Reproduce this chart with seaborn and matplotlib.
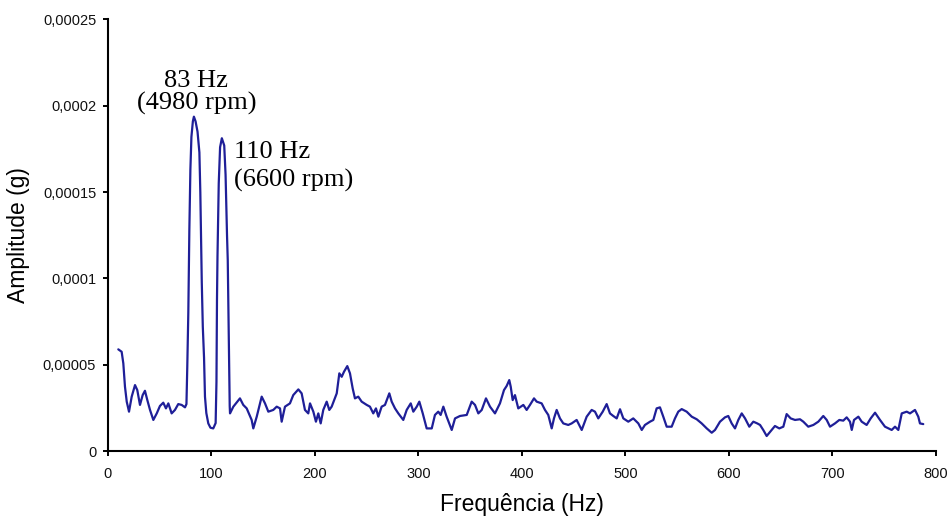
import matplotlib
matplotlib.use("Agg")
import matplotlib.pyplot as plt
import numpy as np
import pandas as pd
import seaborn as sns
from matplotlib.ticker import FixedLocator, FixedFormatter

# Vibration spectrum: frequency (Hz) and amplitude (in units of 1e-5 g)
freq_hz = [
    9.95, 13.2, 14.8, 16.4, 18.1, 20.3, 22.9, 26.1, 28.3, 30.9, 33.5, 35.7, 38.0,
    40.6, 43.8, 47.1, 50.2, 53.4, 56.0, 58.3, 61.5, 64.7, 67.9, 71.2, 74.4, 75.8,
    76.6, 77.6, 78.6, 79.6, 80.6, 82.0, 83.0, 84.6, 86.5, 88.3, 89.2, 89.9, 90.6,
    91.6, 92.8, 93.7, 95.0, 96.9, 99.0, 101.7, 104.0, 104.8, 105.3, 105.8, 107.0,
    108.3, 110.0, 112.3, 113.6, 115.0, 115.7, 116.6, 117.2, 117.6, 117.9,
    121.1, 127.5, 130.7, 134.0, 138.8, 140.4, 143.7, 148.5, 151.7, 154.9, 159.7,
    163.0, 166.2, 167.8, 171.0, 175.8, 179.0, 183.9, 187.1, 190.3, 193.5, 195.2,
    198.4, 200.9, 203.2, 205.5, 208.0, 211.3, 213.8, 216.1, 221.0, 223.5, 225.8,
    228.0, 231.2, 233.8, 236.4, 238.6, 241.8, 245.1, 250.0, 253.1, 256.3, 258.9,
    261.2, 264.4, 267.6, 271.8, 274.1, 277.3, 280.5, 285.3, 288.6, 292.5, 295.0,
    298.3, 300.8, 304.1, 307.9, 312.8, 315.9, 319.1, 321.4, 324.0, 327.2, 332.1,
    335.3, 340.1, 346.6, 351.4, 354.6, 357.8, 361.1, 365.2, 369.1, 373.9, 378.7,
    382.6, 385.2, 387.7, 389.1, 391.0, 393.2, 396.4, 401.3, 404.5, 407.7, 411.6,
    414.2, 419.0, 422.2, 425.4, 428.7, 430.9, 433.5, 436.7, 439.9, 444.7, 448.0,
    452.8, 457.7, 462.5, 467.3, 470.5, 473.7, 478.0, 481.8, 485.0, 488.2, 491.5,
    494.7, 497.9, 502.7, 507.5, 512.4, 515.7, 518.8, 523.7, 526.9, 530.1, 533.3,
    536.5, 539.8, 544.6, 547.8, 551.0, 554.3, 559.1, 564.0, 568.8, 573.6, 578.5,
    583.3, 586.5, 591.3, 596.1, 599.3, 602.6, 605.8, 609.0, 612.3, 615.5, 619.6,
    623.5, 627.3, 630.0, 633.1, 636.4, 641.3, 644.4, 648.6, 652.5, 655.7, 659.6,
    663.8, 668.6, 671.8, 676.6, 681.5, 686.3, 691.1, 694.4, 697.6, 702.4, 706.6,
    710.4, 713.7, 716.9, 718.6, 720.8, 725.0, 728.2, 733.0, 736.9, 741.1, 745.9,
    750.7, 757.2, 760.4, 763.6, 766.9, 771.7, 774.9, 779.7, 782.9, 784.5, 787.7,
]
amp_1e5_g = [
    5.89, 5.75, 5.08, 3.73, 2.86, 2.28, 3.15, 3.82, 3.53, 2.67, 3.24, 3.49, 2.95,
    2.38, 1.80, 2.18, 2.61, 2.80, 2.47, 2.76, 2.18, 2.38, 2.72, 2.67, 2.53, 2.72,
    4.88, 8.00, 12.8, 16.3, 18.2, 19.1, 19.37, 19.1, 18.5, 17.3, 15.0, 12.5, 9.8,
    7.2, 5.4, 3.15, 2.2, 1.6, 1.35, 1.31, 1.62, 4.0, 8.75, 11.3, 15.5,
    17.6, 18.12, 17.7, 16.0, 12.5, 11.07, 7.0, 4.1, 2.6, 2.18,
    2.57, 3.05, 2.67, 2.47, 1.80, 1.31, 1.99, 3.15, 2.76, 2.28, 2.38,
    2.57, 2.47, 1.70, 2.57, 2.76, 3.24, 3.57, 3.34, 2.38, 2.18, 2.76,
    2.28, 1.70, 2.18, 1.60, 2.38, 2.86, 2.38, 2.57, 3.34, 4.50, 4.30,
    4.59, 4.92, 4.50, 3.63, 3.05, 3.15, 2.86, 2.67, 2.57, 2.18, 2.47,
    1.99, 2.57, 2.67, 3.34, 2.86, 2.47, 2.18, 1.80, 2.38, 2.76, 2.28,
    2.57, 2.86, 2.18, 1.31, 1.31, 2.09, 2.28, 2.09, 2.57, 1.99, 1.22,
    1.89, 2.03, 2.09, 2.86, 2.67, 2.18, 2.38, 3.05, 2.57, 2.18, 2.76,
    3.53, 3.77, 4.11, 3.73, 2.95, 3.24, 2.47, 2.67, 2.38, 2.67, 3.05,
    2.86, 2.76, 2.38, 2.09, 1.31, 1.89, 2.38, 1.89, 1.60, 1.51, 1.60,
    1.80, 1.22, 1.99, 2.38, 2.28, 1.89, 2.28, 2.72, 2.18, 2.03, 1.89,
    2.42, 1.89, 1.70, 1.89, 1.60, 1.22, 1.51, 1.70, 1.80, 2.47, 2.53,
    1.99, 1.41, 1.41, 1.89, 2.28, 2.43, 2.28, 1.99, 1.84, 1.60, 1.31,
    1.06, 1.22, 1.70, 1.95, 2.03, 1.60, 1.31, 1.80, 2.18, 1.89, 1.41,
    1.70, 1.60, 1.51, 1.22, 0.87, 1.22, 1.45, 1.31, 1.41, 2.14, 1.89,
    1.80, 1.84, 1.70, 1.41, 1.51, 1.70, 2.03, 1.80, 1.41, 1.60, 1.80,
    1.76, 1.95, 1.70, 1.22, 1.80, 1.99, 1.70, 1.51, 1.89, 2.22, 1.80,
    1.41, 1.22, 1.41, 1.22, 2.18, 2.28, 2.18, 2.38, 1.99, 1.60, 1.56,
]

x_ticks = [0, 100, 200, 300, 400, 500, 600, 700, 800]
y_ticks = [0, 0.00005, 0.0001, 0.00015, 0.0002, 0.00025]
y_tick_labels = ["0", "0,00005", "0,0001", "0,00015", "0,0002", "0,00025"]

peak_labels = ["83 Hz\n(4980 rpm)", "110 Hz\n(6600 rpm)"]

x_label = "Frequência (Hz)"
y_label = "Amplitude (g)"

df = pd.DataFrame({"freq": freq_hz, "amp": np.array(amp_1e5_g) * 1e-5})

sns.set_theme(style="white")
plt.rcParams["font.family"] = ["Liberation Sans", "DejaVu Sans"]

fig = plt.figure(figsize=(9.49, 5.18), dpi=100)
ax = fig.add_axes([0.1138, 0.1293, 0.8725, 0.8331])

sns.lineplot(data=df, x="freq", y="amp", color="#1f1f98", linewidth=1.6, ax=ax)

ax.set_xlim(0, 800)
ax.set_ylim(0, 0.00025)
ax.xaxis.set_major_locator(FixedLocator(x_ticks))
ax.set_xticklabels([str(t) for t in x_ticks])
ax.yaxis.set_major_locator(FixedLocator(y_ticks))
ax.yaxis.set_major_formatter(FixedFormatter(y_tick_labels))

for side in ("top", "right"):
    ax.spines[side].set_visible(False)
for side in ("left", "bottom"):
    ax.spines[side].set_color("black")
    ax.spines[side].set_linewidth(1.5)

ax.tick_params(axis="both", which="major", direction="out", length=3.5,
               width=1.4, color="black", labelsize=10.5, labelcolor="#111111",
               left=True, bottom=True)
ax.tick_params(axis="x", pad=8)
ax.tick_params(axis="y", pad=5)

ax.set_xlabel(x_label, fontsize=16.5, color="black", labelpad=9)
ax.set_ylabel(y_label, fontsize=16.5, color="black", labelpad=9)
ax.grid(False)

# Peak annotations
serif = ["Liberation Serif", "DejaVu Serif"]
ax.text(85.5, 0.0002075, peak_labels[0], ha="center", va="center",
        family=serif, fontsize=19, linespacing=1.0, color="black")
ax.text(122.0, 0.000165, peak_labels[1], ha="left", va="center",
        family=serif, fontsize=19, linespacing=1.35, color="black",
        multialignment="left")

fig.savefig("out.png", dpi=100)
